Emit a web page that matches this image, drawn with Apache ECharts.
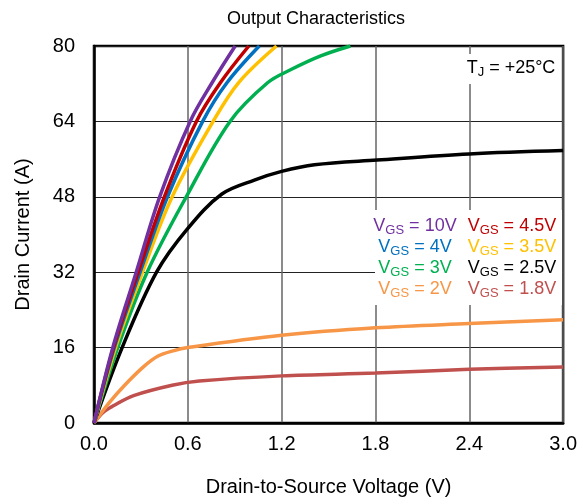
<!DOCTYPE html>
<html>
<head>
<meta charset="utf-8">
<script src="https://cdn.jsdelivr.net/npm/echarts@6/dist/echarts.min.js"></script>
<style>
  html, body { margin: 0; padding: 0; background: #fff; }
  #main { width: 580px; height: 503px; }
</style>
</head>
<body>
<div id="main"></div>
<script>
// [Vds, Id]
const vgs10 = [[0, 0], [0.12, 16], [0.27, 32], [0.42, 48], [0.615, 64], [0.755, 72.2], [0.903, 80]];
const vgs45 = [[0, 0], [0.125, 16], [0.283, 32], [0.45, 48], [0.655, 64], [0.808, 72.2], [0.99, 80]];
const vgs4 = [[0, 0], [0.13, 16], [0.295, 32], [0.47, 48], [0.695, 64], [0.85, 72.2], [1.057, 80]];
const vgs35 = [[0, 0], [0.138, 16], [0.31, 32], [0.5, 48], [0.762, 64], [0.924, 72.2], [1.167, 80]];
const vgs3 = [[0, 0], [0.152, 16], [0.34, 32], [0.59, 48], [0.87, 64], [1.11, 72.2], [1.26, 75], [1.45, 77.9], [1.64, 80]];
const vgs25 = [[0, 0], [0.18, 16], [0.4, 32], [0.6, 41.3], [0.818, 48.6], [1.03, 51.6], [1.2, 53.4], [1.41, 54.8], [1.81, 55.8], [2.4, 57.1], [3.0, 57.8]];
const vgs2 = [[0, 0], [0.095, 4.2], [0.19, 7.8], [0.316, 11.9], [0.41, 14.2], [0.506, 15.3], [0.6, 16], [1.2, 18.6], [1.8, 20.2], [2.4, 21.1], [3.0, 21.9]];
const vgs18 = [[0, 0], [0.06, 2.3], [0.127, 3.7], [0.253, 5.8], [0.5, 8.0], [0.673, 8.9], [1.2, 10.0], [1.8, 10.6], [2.4, 11.4], [3.0, 11.9]];

const labels = ['10V', '4.5V', '4V', '3.5V', '3V', '2.5V', '2V', '1.8V'];
const curves = [vgs10, vgs45, vgs4, vgs35, vgs3, vgs25, vgs2, vgs18];
const colors = ['#7030A0', '#C00000', '#0070C0', '#FFC000', '#00B050', '#000000', '#F79646', '#C0504D'];

const xTicks = [0, 0.6, 1.2, 1.8, 2.4, 3.0];
const yTicks = [0, 16, 32, 48, 64, 80];

const font = 'Liberation Sans, Arial, sans-serif';
const chart = echarts.init(document.getElementById('main'));

const sub = (big, small, rest) => '{v|' + big + '}{s|' + small + '}{v|' + rest + '}';
const richSub = {
  v: { fontSize: 18, lineHeight: 22, fontFamily: font },
  s: { fontSize: 13, lineHeight: 10, verticalAlign: 'bottom', fontFamily: font }
};

// legend text, two columns
let legendTexts = labels.map((lab, i) => ({
  type: 'text',
  x: i % 2 === 0 ? 415 : 512,
  y: 226 + Math.floor(i / 2) * 21,
  z: 10,
  style: {
    text: sub('V', 'GS', ' = ' + lab),
    rich: richSub,
    fill: colors[i],
    align: 'center',
    verticalAlign: 'middle',
    fontFamily: font
  }
}));

chart.setOption({
  animation: false,
  title: {
    text: 'Output Characteristics',
    left: 222,
    top: 5,
    textStyle: { fontFamily: font, fontSize: 18, fontWeight: 'normal', color: '#000' }
  },
  grid: {
    left: 94, right: 12, top: 46, bottom: 80,
    show: true, borderColor: '#000', borderWidth: 2.5, backgroundColor: 'transparent'
  },
  xAxis: {
    type: 'value', min: 0, max: 3, interval: 0.6,
    name: 'Drain-to-Source Voltage (V)',
    nameLocation: 'middle', nameGap: 54,
    nameTextStyle: { fontFamily: font, fontSize: 20, color: '#000' },
    axisLine: { show: true, lineStyle: { color: '#000', width: 2.5 } },
    axisTick: { show: false },
    axisLabel: {
      margin: 11, fontFamily: font, fontSize: 20, color: '#000',
      customValues: xTicks,
      formatter: v => v.toFixed(1)
    },
    splitLine: { show: true, lineStyle: { color: '#666', width: 1.5 } }
  },
  yAxis: {
    type: 'value', min: 0, max: 80, interval: 16,
    name: 'Drain Current (A)',
    nameLocation: 'middle', nameGap: 61,
    nameTextStyle: { fontFamily: font, fontSize: 20, color: '#000' },
    axisLine: { show: true, lineStyle: { color: '#000', width: 2.5 } },
    axisTick: { show: false },
    axisLabel: { margin: 19, fontFamily: font, fontSize: 20, color: '#000', customValues: yTicks },
    splitLine: { show: true, lineStyle: { color: '#222', width: 1.2 } }
  },
  graphic: [
    { type: 'rect', shape: { x: 375, y: 210, width: 187, height: 95 }, style: { fill: '#fff' }, z: 5 },
    { type: 'rect', shape: { x: 463, y: 54, width: 98, height: 30 }, style: { fill: '#fff' }, z: 5 },
    {
      type: 'text', x: 511, y: 68, z: 10,
      style: {
        text: sub('T', 'J', ' = +25°C'), rich: richSub, fill: '#000',
        align: 'center', verticalAlign: 'middle', fontFamily: font
      }
    }
  ].concat(legendTexts),
  series: curves.map((d, i) => ({
    name: 'VGS = ' + labels[i],
    type: 'line',
    data: d,
    smooth: 0.35,
    showSymbol: false,
    clip: true,
    z: 3 + (curves.length - i),
    lineStyle: { color: colors[i], width: 3.5 }
  }))
});
</script>
</body>
</html>
